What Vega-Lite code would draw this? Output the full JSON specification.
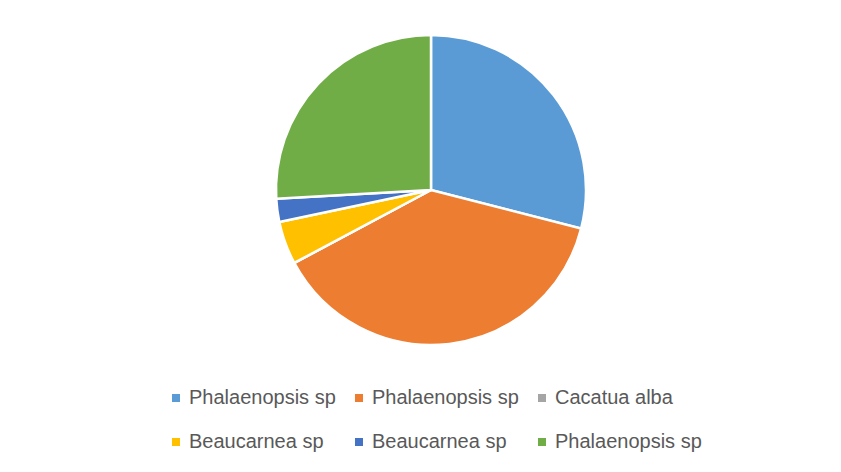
{
  "$schema": "https://vega.github.io/schema/vega-lite/v6.json",
  "width": 862,
  "height": 380,
  "padding": {"left": 0, "top": 0, "right": 0, "bottom": 92},
  "autosize": {"type": "none"},
  "background": "white",
  "config": {"view": {"stroke": null}},
  "data": {
    "values": [
      {"k": "1 Phalaenopsis sp", "v": 29.0},
      {"k": "2 Phalaenopsis sp", "v": 38.2},
      {"k": "3 Cacatua alba", "v": 0},
      {"k": "4 Beaucarnea sp", "v": 4.5},
      {"k": "5 Beaucarnea sp", "v": 2.4},
      {"k": "6 Phalaenopsis sp", "v": 25.9}
    ]
  },
  "mark": {"type": "arc", "outerRadius": 155, "stroke": "white", "strokeWidth": 2.5},
  "encoding": {
    "theta": {"field": "v", "type": "quantitative", "stack": true},
    "order": {"field": "k", "type": "ordinal", "sort": "ascending"},
    "color": {
      "field": "k",
      "type": "nominal",
      "scale": {
        "domain": ["1 Phalaenopsis sp", "2 Phalaenopsis sp", "3 Cacatua alba", "4 Beaucarnea sp", "5 Beaucarnea sp", "6 Phalaenopsis sp"],
        "range": ["#5B9BD5", "#ED7D31", "#A5A5A5", "#FFC000", "#4472C4", "#70AD47"]
      },
      "legend": {
        "title": null,
        "orient": "none",
        "legendX": 166,
        "legendY": 388,
        "direction": "horizontal",
        "columns": 3,
        "labelExpr": "substring(datum.label, 2)",
        "symbolType": "square",
        "symbolSize": 64,
        "symbolStrokeWidth": 0,
        "labelFont": "Liberation Sans",
        "labelFontSize": 20,
        "labelColor": "#595959",
        "labelOffset": 3,
        "columnPadding": 13,
        "rowPadding": 24,
        "labelLimit": 300
      }
    }
  }
}
